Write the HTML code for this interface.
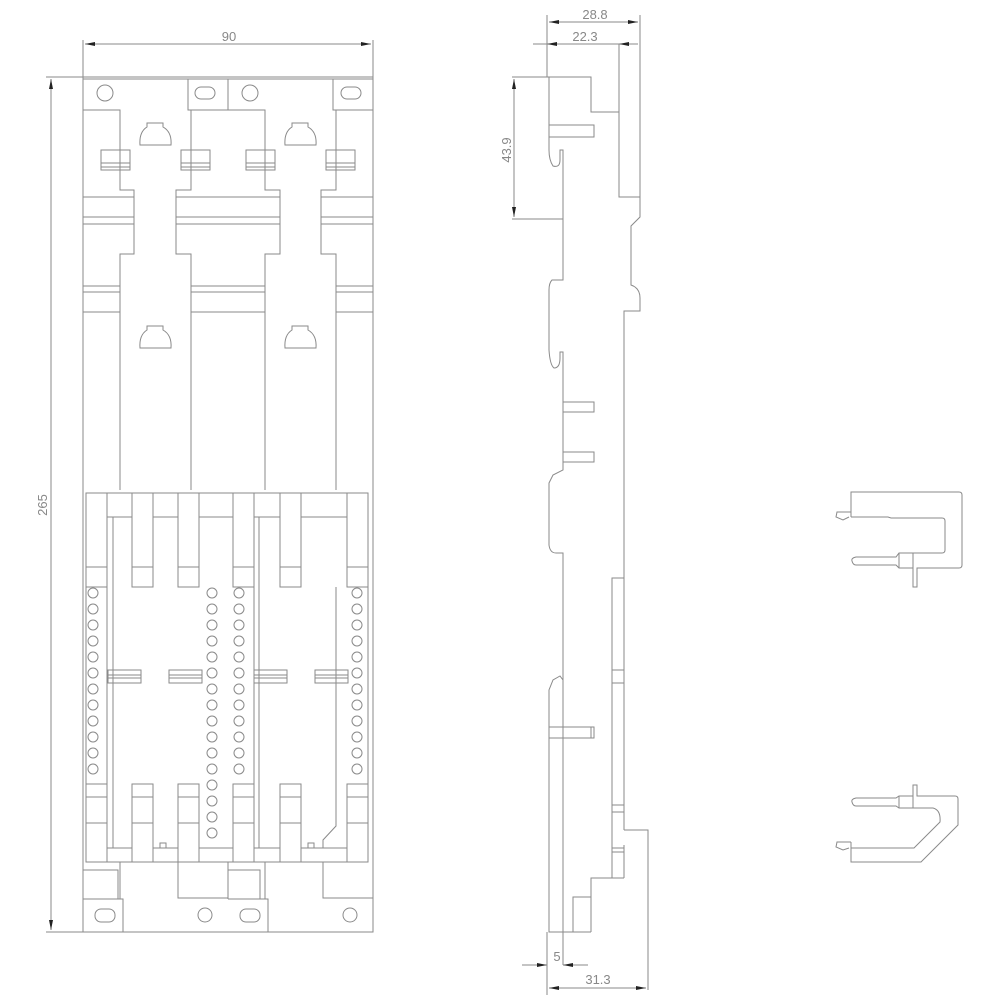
<!DOCTYPE html>
<html><head><meta charset="utf-8"><style>
body{margin:0;background:#fff}
svg{display:block}
text{font-family:"Liberation Sans",sans-serif;fill:#888;font-size:13px}
</style></head><body>
<svg width="1000" height="1000" viewBox="0 0 1000 1000" xmlns="http://www.w3.org/2000/svg">
<defs>
<marker id="a" viewBox="0 0 10 4" refX="10" refY="2" markerWidth="14" markerHeight="4" markerUnits="userSpaceOnUse" orient="auto-start-reverse"><path d="M0,0 L10,2 L0,4z" fill="#222"/></marker>
</defs>
<g fill="none" stroke="#8a8a8a" stroke-width="1">
<!-- dims front -->
<line x1="83" y1="40" x2="83" y2="77"/><line x1="373" y1="40" x2="373" y2="77"/>
<line x1="85" y1="44" x2="371" y2="44" marker-start="url(#a)" marker-end="url(#a)"/>
<line x1="46" y1="77" x2="83" y2="77"/><line x1="46" y1="932" x2="83" y2="932"/>
<line x1="51" y1="79" x2="51" y2="930" marker-start="url(#a)" marker-end="url(#a)"/>
<!-- outer frame -->
<rect x="83" y="77" width="290" height="855"/>
<line x1="83" y1="79" x2="373" y2="79"/>
<rect x="188" y="79" width="40" height="31"/><rect x="333" y="79" width="40" height="31"/>
<circle cx="105" cy="93" r="8"/><circle cx="250" cy="93" r="8"/>
<rect x="195" y="87" width="20" height="12" rx="6"/><rect x="341" y="87" width="20" height="12" rx="6"/>
<!-- strips upper -->
<path d="M83,110 H120 V190 H134 V254 H120 V490"/>
<path d="M191,490 V254 H176 V190 H191 V110 H265 V190 H280 V254 H265 V490"/>
<path d="M373,110 H336 V190 H321 V254 H336 V490"/>
<line x1="83" y1="197" x2="134" y2="197"/><line x1="83" y1="217" x2="134" y2="217"/><line x1="83" y1="224" x2="134" y2="224"/>
<line x1="176" y1="197" x2="280" y2="197"/><line x1="176" y1="217" x2="280" y2="217"/><line x1="176" y1="224" x2="280" y2="224"/>
<line x1="321" y1="197" x2="373" y2="197"/><line x1="321" y1="217" x2="373" y2="217"/><line x1="321" y1="224" x2="373" y2="224"/>
<line x1="83" y1="286" x2="120" y2="286"/><line x1="83" y1="292" x2="120" y2="292"/><line x1="83" y1="312" x2="120" y2="312"/>
<line x1="191" y1="286" x2="265" y2="286"/><line x1="191" y1="292" x2="265" y2="292"/><line x1="191" y1="312" x2="265" y2="312"/>
<line x1="336" y1="286" x2="373" y2="286"/><line x1="336" y1="292" x2="373" y2="292"/><line x1="336" y1="312" x2="373" y2="312"/>
<!-- clips -->
<g id="clp"><rect x="101" y="150" width="29" height="20"/><line x1="101" y1="163" x2="130" y2="163"/><line x1="101" y1="167" x2="130" y2="167"/></g>
<use href="#clp" x="80"/><use href="#clp" x="145"/><use href="#clp" x="225"/>
<!-- bells -->
<g id="bell"><path d="M147,123 H163 V127 Q172,132 171,145 H140 Q139,132 147,127Z"/></g>
<use href="#bell" x="145"/><use href="#bell" y="203"/><use href="#bell" x="145" y="203"/>
<!-- lower assembly -->
<rect x="86" y="493" width="282" height="369"/>
<line x1="86" y1="517" x2="368" y2="517"/>
<line x1="86" y1="848" x2="368" y2="848"/>
<line x1="107" y1="517" x2="107" y2="848"/><line x1="113" y1="517" x2="113" y2="848"/>
<line x1="254" y1="517" x2="254" y2="848"/><line x1="259" y1="517" x2="259" y2="848"/>
<g fill="#fff">
<g id="bt"><rect x="86" y="493" width="21" height="94"/><line x1="86" y1="567" x2="107" y2="567"/></g>
<use href="#bt" x="46"/><use href="#bt" x="92"/><use href="#bt" x="147"/><use href="#bt" x="194"/><use href="#bt" x="261"/>
</g>
<!-- circles -->
<g id="cc">
<circle cx="93" cy="593" r="5"/><circle cx="93" cy="609" r="5"/><circle cx="93" cy="625" r="5"/><circle cx="93" cy="641" r="5"/><circle cx="93" cy="657" r="5"/><circle cx="93" cy="673" r="5"/><circle cx="93" cy="689" r="5"/><circle cx="93" cy="705" r="5"/><circle cx="93" cy="721" r="5"/><circle cx="93" cy="737" r="5"/><circle cx="93" cy="753" r="5"/><circle cx="93" cy="769" r="5"/>
</g>
<use href="#cc" x="146"/><use href="#cc" x="264"/>
<use href="#cc" x="119"/>
<circle cx="212" cy="785" r="5"/><circle cx="212" cy="801" r="5"/><circle cx="212" cy="817" r="5"/><circle cx="212" cy="833" r="5"/>
<!-- side clips -->
<g id="sc"><rect x="108" y="670" width="33" height="13"/><line x1="108" y1="675" x2="141" y2="675"/><line x1="108" y1="678" x2="141" y2="678"/></g>
<use href="#sc" x="61"/><use href="#sc" x="146"/><use href="#sc" x="207"/>
<!-- bottom bars -->
<g fill="#fff">
<g id="bb"><rect x="86" y="784" width="21" height="78"/><line x1="86" y1="797" x2="107" y2="797"/><line x1="86" y1="823" x2="107" y2="823"/></g>
<use href="#bb" x="46"/><use href="#bb" x="92"/><use href="#bb" x="147"/><use href="#bb" x="194"/><use href="#bb" x="261"/>
</g>
<rect x="160" y="843" width="6" height="5"/><rect x="308" y="843" width="6" height="5"/>
<path d="M323,848 V840 L336,826 V587"/>
<!-- bottom region -->
<path d="M83,870 H118 V899"/><path d="M120,862 V899"/>
<path d="M178,862 V898 H228"/><path d="M228,862 V899"/><path d="M228,870 H260 V899"/><path d="M265,862 V899"/>
<path d="M323,862 V898 H373"/>
<path d="M83,899 H123 V932"/><path d="M228,899 H268 V932"/>
<rect x="95" y="909" width="20" height="13" rx="6"/><rect x="240" y="909" width="20" height="13" rx="6"/>
<circle cx="205" cy="915" r="7"/><circle cx="350" cy="915" r="7"/>
<!-- side view dims -->
<line x1="547" y1="15" x2="547" y2="77"/><line x1="640" y1="15" x2="640" y2="44"/>
<line x1="549" y1="22" x2="638" y2="22" marker-start="url(#a)" marker-end="url(#a)"/>
<line x1="533" y1="44" x2="547" y2="44"/>
<line x1="547" y1="44" x2="619" y2="44" marker-start="url(#a)"/>
<line x1="619" y1="44" x2="638" y2="44" marker-start="url(#a)"/>
<line x1="512" y1="77" x2="591" y2="77"/><line x1="512" y1="219" x2="563" y2="219"/>
<line x1="514" y1="79" x2="514" y2="217" marker-start="url(#a)" marker-end="url(#a)"/>
<!-- side profile -->
<path d="M547,77 H591 V112 H619 V44"/>
<path d="M619,110 V197 H640 V44"/>
<path d="M640,197 V217 L631,226 V285 Q640,288 640,298 V311 H624 V830"/>
<path d="M549,77 V150 Q549,160 553,166 Q560,168 560,160 V150 H563 V280 H552 Q549,283 549,290 V350 Q550,365 554,368 Q560,368 560,358 V352 H563 V470 L553,475 L549,483 V545 Q550,553 556,553 H563 V680 L560,676 L553,680 L549,690 V932 H591"/>
<line x1="563" y1="680" x2="563" y2="965"/>
<path d="M549,125 H594 V137 H549"/>
<path d="M563,402 H594 V412 H563"/><path d="M563,452 H594 V462 H563"/>
<path d="M549,727 H594 V738 H549"/><line x1="591" y1="727" x2="591" y2="738"/>
<path d="M624,578 H612 V878"/><line x1="612" y1="670" x2="624" y2="670"/><line x1="612" y1="683" x2="624" y2="683"/>
<line x1="612" y1="805" x2="624" y2="805"/><line x1="612" y1="812" x2="624" y2="812"/><line x1="612" y1="848" x2="624" y2="848"/><line x1="612" y1="852" x2="624" y2="852"/>
<path d="M624,830 H648 V990"/><line x1="624" y1="845" x2="624" y2="878"/>
<path d="M624,878 H591 V897 H573 V932"/><path d="M591,897 V932"/>
<line x1="547" y1="932" x2="547" y2="995"/>
<line x1="522" y1="965" x2="547" y2="965" marker-end="url(#a)"/>
<line x1="588" y1="965" x2="563" y2="965" marker-end="url(#a)"/>
<line x1="549" y1="988" x2="646" y2="988" marker-start="url(#a)" marker-end="url(#a)"/>
<!-- connector top -->
<path d="M851,517 V492 H959 Q962,492 962,495 V565 Q962,568 959,568 H917 V587 H913 V553 H942 Q945,553 945,550 V521 Q945,518 942,518 H891 L888,517 H851"/>
<path d="M851,512 H837 L836,517 L843,520 L849,517"/>
<path d="M913,553 H899 L896,557 H856 Q851,558 852,561 Q853,565 856,565 H896 L899,568 H913"/>
<line x1="899" y1="553" x2="899" y2="568"/>
<!-- connector bottom -->
<path d="M913,785 H917 V796 H955 Q958,796 958,799 V825 L921,862 H851 V848 H914 L940,822 Q941,810 933,808 H917 Q915,808 913,808 Z"/>
<path d="M913,796 H899 L896,798 H856 Q851,799 852,802 Q853,806 856,806 H896 L899,808 H913"/>
<line x1="899" y1="796" x2="899" y2="808"/>
<path d="M851,842 H837 L836,847 L843,850 L849,848"/>
<line x1="851" y1="842" x2="851" y2="848"/>
</g>
<text x="229" y="41" text-anchor="middle">90</text>
<text transform="translate(47,505) rotate(-90)" text-anchor="middle">265</text>
<text x="595" y="19" text-anchor="middle">28.8</text>
<text x="585" y="41" text-anchor="middle">22.3</text>
<text transform="translate(511,150) rotate(-90)" text-anchor="middle">43.9</text>
<text x="557" y="961" text-anchor="middle">5</text>
<text x="598" y="984" text-anchor="middle">31.3</text>
</svg>
</body></html>
